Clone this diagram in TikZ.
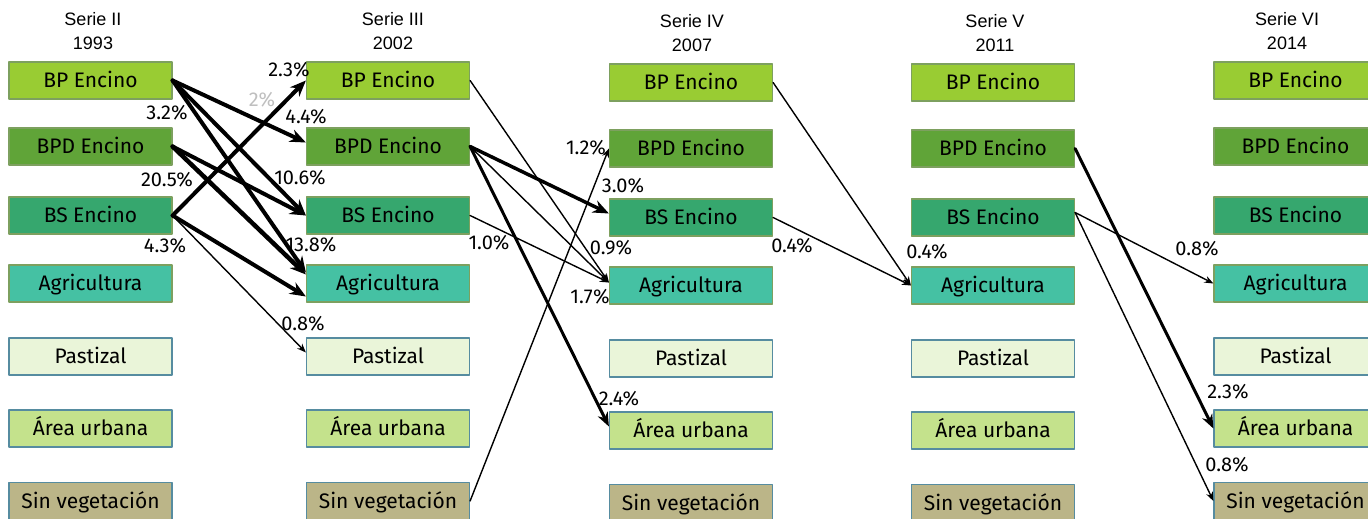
\documentclass[tikz,border=0pt]{standalone}
\usepackage{fontspec}
\setmainfont{Fira Sans}
\newfontfamily\hdfont{Liberation Sans}
\usetikzlibrary{arrows.meta}

\definecolor{bpcol}{RGB}{153,204,51}
\definecolor{bpdcol}{RGB}{96,164,56}
\definecolor{bscol}{RGB}{54,167,110}
\definecolor{agrcol}{RGB}{69,193,163}
\definecolor{pascol}{RGB}{234,245,217}
\definecolor{urbcol}{RGB}{196,226,140}
\definecolor{sincol}{RGB}{187,181,136}
\definecolor{greenline}{RGB}{125,160,95}
\definecolor{blueline}{RGB}{86,140,160}

\tikzset{
  box/.style={draw, line width=1.2pt, minimum width=163pt, minimum height=37pt,
    inner sep=0pt, text height=14.5pt, text depth=0pt,
    font=\fontsize{21}{23}\selectfont},
  bpbox/.style={box, fill=bpcol, draw=greenline},
  bpdbox/.style={box, fill=bpdcol, draw=greenline},
  bsbox/.style={box, fill=bscol, draw=greenline},
  agrbox/.style={box, fill=agrcol, draw=greenline},
  pasbox/.style={box, fill=pascol, draw=blueline},
  urbbox/.style={box, fill=urbcol, draw=blueline},
  sinbox/.style={box, fill=sincol, draw=blueline},
  hd/.style={font=\hdfont\fontsize{18}{24}\selectfont, align=center},
  pct/.style={font=\fontsize{20}{22}\selectfont, inner sep=0pt},
  flow1/.style={line width=1.4pt, -{Stealth[length=9pt,width=7pt]}},
  flow2/.style={line width=3pt, -{Stealth[length=14pt,width=11pt]}},
  flow3/.style={line width=4pt, -{Stealth[length=16pt,width=13pt]}},
}

\begin{document}
\begin{tikzpicture}[x=1pt, y=-1pt, line join=round, line cap=round]
  \useasboundingbox (0,0) rectangle (1368,519);

  % boxes, one column per serie
  \foreach \c/\x/\d in {1/90.5/0, 2/388/0, 3/691/2, 4/993/2, 5/1295.5/0} {
    \node[bpbox]  (bp\c)  at (\x,80.5+\d)  {BP Encino};
    \node[bpdbox] (bpd\c) at (\x,146.5+\d) {BPD Encino};
    \node[bsbox]  (bs\c)  at (\x,215.5+\d) {BS Encino};
    \node[agrbox] (agr\c) at (\x,283.5+\d) {Agricultura};
    \node[pasbox] (pas\c) at (\x,356.5+\d) {Pastizal};
    \node[urbbox] (urb\c) at (\x,428.5+\d) {Área urbana};
    \node[sinbox] (sin\c) at (\x,501+\d)   {Sin vegetación};
  }

  \node[hd] (h1) at (93,31)   {Serie II\\1993};
  \node[hd] (h2) at (393,31)  {Serie III\\2002};
  \node[hd] (h3) at (692,33)  {Serie IV\\2007};
  \node[hd] (h4) at (995,33)  {Serie V\\2011};
  \node[hd] (h5) at (1287,31) {Serie VI\\2014};

  % 1993 -> 2002
  \draw[flow3] (bs1.east) -- (bp2.west);
  \draw[flow3] (bp1.east) -- ([yshift=4pt]bpd2.west);
  \draw[flow3] (bp1.east) -- (bs2.west);
  \draw[flow3] (bpd1.east) -- (bs2.west);
  \draw[flow3] (bp1.east) -- ([yshift=11pt]agr2.west);
  \draw[flow3,line width=4.5pt] (bpd1.east) -- ([yshift=9pt]agr2.west);
  \draw[flow3] (bs1.east) -- ([yshift=-13pt]agr2.west);
  \draw[flow1] (bs1.east) -- ([yshift=4pt]pas2.west);

  % 2002 -> 2007
  \draw[flow1] (bp2.east) -- ([yshift=3pt]agr3.west);
  \draw[flow3,line width=3.5pt] (bpd2.east) -- ([yshift=4pt]bs3.west);
  \draw[flow1] (bpd2.east) -- ([yshift=3pt]agr3.west);
  \draw[flow2] (bpd2.east) -- ([yshift=4pt]urb3.west);
  \draw[flow1] (bs2.east) -- ([yshift=3pt]agr3.west);
  \draw[flow1] (sin2.east) -- (bpd3.west);

  % 2007 -> 2011
  \draw[flow1] (bp3.east) -- (agr4.west);
  \draw[flow1] (bs3.east) -- (agr4.west);

  % 2011 -> 2014
  \draw[flow2] (bpd4.east) -- (urb5.west);
  \draw[flow1] ([yshift=5pt]bs4.east) -- (agr5.west);
  \draw[flow1] ([yshift=5pt]bs4.east) -- (sin5.west);

  % percentages
  \node[pct] (p1)  at (289,70)   {2.3\%};
  \node[pct,text=black!25] (p2) at (262,100) {2\%};
  \node[pct] (p3)  at (167,113)  {3.2\%};
  \node[pct] (p4)  at (306,117)  {4.4\%};
  \node[pct] (p5)  at (167,180)  {20.5\%};
  \node[pct] (p6)  at (300,178)  {10.6\%};
  \node[pct] (p7)  at (165,246)  {4.3\%};
  \node[pct] (p8)  at (311,245)  {13.8\%};
  \node[pct] (p9)  at (303,324)  {0.8\%};
  \node[pct] (p10) at (489,243)  {1.0\%};
  \node[pct] (p11) at (611,248)  {0.9\%};
  \node[pct] (p12) at (586,148)  {1.2\%};
  \node[pct] (p13) at (623,186)  {3.0\%};
  \node[pct] (p14) at (590,297)  {1.7\%};
  \node[pct] (p15) at (619,399)  {2.4\%};
  \node[pct] (p16) at (792,246)  {0.4\%};
  \node[pct] (p17) at (927,252)  {0.4\%};
  \node[pct] (p18) at (1197,249) {0.8\%};
  \node[pct] (p19) at (1228,392) {2.3\%};
  \node[pct] (p20) at (1227,465) {0.8\%};
\end{tikzpicture}
\end{document}
